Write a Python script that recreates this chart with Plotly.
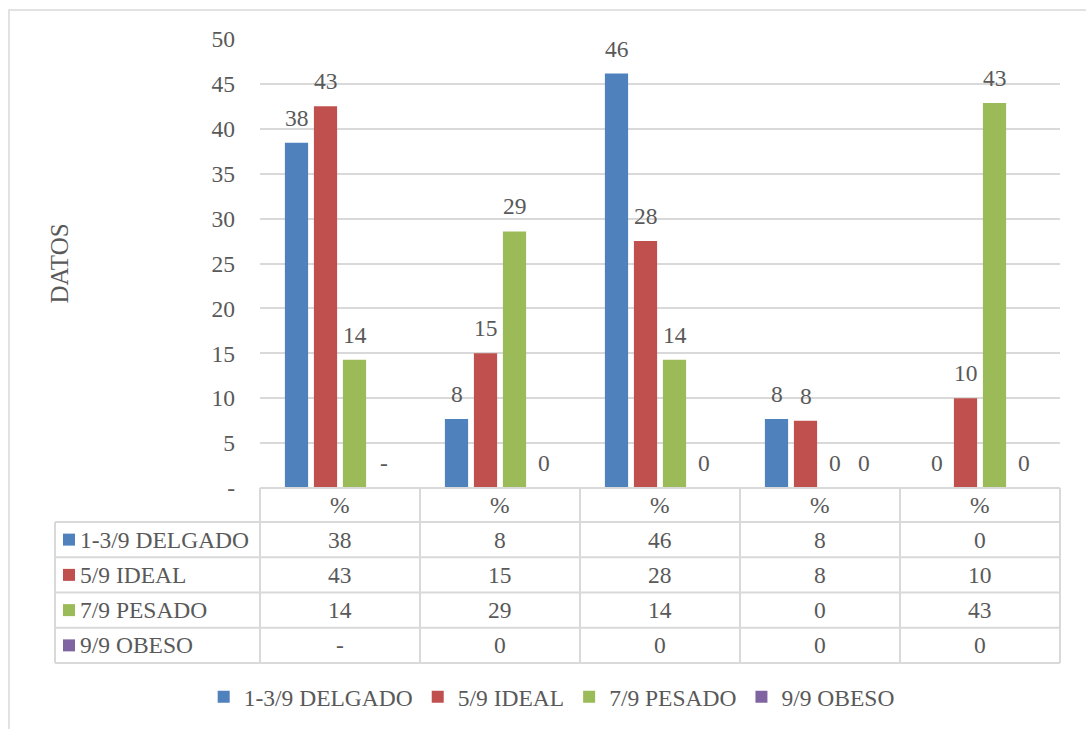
import plotly.graph_objects as go

# ---- data -------------------------------------------------------------
groups = ["%", "%", "%", "%", "%"]
series_names = ["1-3/9 DELGADO", "5/9 IDEAL", "7/9 PESADO", "9/9 OBESO"]
delgado = [38.46, 7.69, 46.15, 7.69, 0]
ideal = [42.5, 15.0, 27.5, 7.5, 10.0]
pesado = [14.29, 28.57, 14.29, 0, 42.86]
obeso = [None, 0, 0, 0, 0]
y_tickvals = [0, 5, 10, 15, 20, 25, 30, 35, 40, 45, 50]
y_ticktext = ["-", "5", "10", "15", "20", "25", "30", "35", "40", "45", "50"]
y_title = "DATOS"

# ---- style ------------------------------------------------------------
colors = ["#4F81BD", "#C0504D", "#9BBB59", "#8064A2"]
text_color = "#595959"
line_color = "#D9D9D9"
font_family = "Liberation Serif"
font_size = 23.5

W, H = 1086, 729
M_L, M_R, M_T, M_B = 260, 26, 39, 241
PLOT_H = H - M_T - M_B
PLOT_W = W - M_L - M_R
BARGAP = 0.275
BARGROUPGAP = 0.2


def py(pix_y):
    """Pixel row -> paper y coordinate."""
    return (H - M_B - pix_y) / PLOT_H


def px(pix_x):
    """Pixel column -> paper x coordinate."""
    return (pix_x - M_L) / PLOT_W


def fmt(v):
    if v is None:
        return "-"
    return str(int(v + 0.5))


series = [delgado, ideal, pesado, obeso]
positions = list(range(len(groups)))
tfont = dict(size=font_size, color=text_color, family=font_family)

fig = go.Figure()
for name, vals, col in zip(series_names, series, colors):
    fig.add_trace(go.Bar(
        x=positions, y=vals, name=name,
        marker=dict(color=col, line=dict(width=0)),
        hoverinfo="skip",
    ))

annotations = []
shapes = []

# value labels above each bar
slot = (1 - BARGAP) / len(series)
for k, vals in enumerate(series):
    off = (k - (len(series) - 1) / 2) * slot
    for i, v in enumerate(vals):
        annotations.append(dict(
            x=positions[i] + off, y=0 if v is None else v,
            xref="x", yref="y", text=fmt(v), showarrow=False,
            yanchor="bottom", yshift=10, font=tfont,
        ))

# y-axis title
annotations.append(dict(
    x=px(59), y=0.5, xref="paper", yref="paper", text=y_title,
    textangle=-90, showarrow=False, xanchor="center", yanchor="middle",
    font=dict(size=25, color=text_color, family=font_family),
))

# ---- data table under the plot ---------------------------------------
table_left = 55
header_top, header_bot = H - M_B, 522
row_h = (663 - 522) / len(series)
row_edges = [header_bot + r * row_h for r in range(len(series) + 1)]
ln = dict(color=line_color, width=2)

# horizontal rules
shapes.append(dict(type="line", xref="paper", yref="paper",
                   x0=0, x1=1, y0=py(header_top), y1=py(header_top), line=ln))
for ye in row_edges:
    shapes.append(dict(type="line", xref="paper", yref="paper",
                       x0=px(table_left), x1=1, y0=py(ye), y1=py(ye), line=ln))
# vertical rules
shapes.append(dict(type="line", xref="paper", yref="paper",
                   x0=px(table_left), x1=px(table_left),
                   y0=py(row_edges[0]), y1=py(row_edges[-1]), line=ln))
for c in range(len(groups) + 1):
    xc = c / len(groups)
    shapes.append(dict(type="line", xref="paper", yref="paper",
                       x0=xc, x1=xc, y0=py(header_top), y1=py(row_edges[-1]),
                       line=ln))

# header cells
for i, g in enumerate(groups):
    annotations.append(dict(
        x=positions[i], y=py((header_top + header_bot) / 2),
        xref="x", yref="paper", text=g, showarrow=False,
        xanchor="center", yanchor="middle", font=tfont,
    ))

# body rows: legend key + series name + values
for r, (name, vals, col) in enumerate(zip(series_names, series, colors)):
    yc = (row_edges[r] + row_edges[r + 1]) / 2
    shapes.append(dict(type="rect", xref="paper", yref="paper",
                       x0=px(63), x1=px(75), y0=py(yc - 6), y1=py(yc + 6),
                       fillcolor=col, line=dict(width=0)))
    annotations.append(dict(
        x=px(78), y=py(yc), xref="paper", yref="paper", text=name,
        showarrow=False, xanchor="left", yanchor="middle", font=tfont,
    ))
    for i, v in enumerate(vals):
        annotations.append(dict(
            x=positions[i], y=py(yc), xref="x", yref="paper", text=fmt(v),
            showarrow=False, xanchor="center", yanchor="middle", font=tfont,
        ))

# chart frame
shapes.append(dict(type="rect", xref="paper", yref="paper", layer="below",
                   x0=px(9), x1=px(W + 20), y0=py(H + 20), y1=py(10),
                   line=dict(color=line_color, width=1.5)))

fig.update_layout(
    width=W, height=H,
    margin=dict(l=M_L, r=M_R, t=M_T, b=M_B, autoexpand=False),
    paper_bgcolor="white", plot_bgcolor="white",
    barmode="group", bargap=BARGAP, bargroupgap=BARGROUPGAP,
    font=dict(family=font_family, size=font_size, color=text_color),
    xaxis=dict(range=[-0.5, len(groups) - 0.5], showticklabels=False,
               showgrid=False, zeroline=False, showline=False, fixedrange=True),
    yaxis=dict(range=[0, 50], tickmode="array", tickvals=y_tickvals,
               ticktext=y_ticktext, showgrid=True, gridcolor=line_color,
               gridwidth=1.5, zeroline=False, showline=False,
               ticklabelstandoff=24, fixedrange=True, tickfont=tfont),
    showlegend=True,
    legend=dict(orientation="h", xref="container", yref="container",
                x=0.508, xanchor="center", y=(H - 697) / H, yanchor="middle",
                font=tfont, traceorder="normal", bgcolor="rgba(0,0,0,0)"),
    annotations=annotations,
    shapes=shapes,
)

fig.write_html("out.html")
